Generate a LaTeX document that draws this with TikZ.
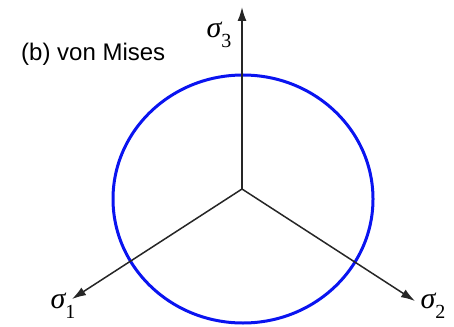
\documentclass[tikz,border=0pt]{standalone}
\usepackage{fontspec}
\setmainfont{Liberation Serif}
\newfontfamily\labelfont{Liberation Sans}
\usepackage{tikz}
\usetikzlibrary{arrows.meta,positioning}
\definecolor{MisesBlue}{HTML}{0A14F0}
\definecolor{AxisGrey}{HTML}{262626}

\newcommand{\sig}[1]{{\itshape σ}\raisebox{-0.32em}{\fontsize{20}{20}\selectfont #1}}

\begin{document}
\begin{tikzpicture}[
  x=1pt,
  y=-1pt,
  axis/.style={draw=AxisGrey, line width=1.5pt, -{Latex[length=14pt,width=9pt]}},
  yieldline/.style={draw=MisesBlue, line width=3pt},
  sigmalabel/.style={font=\fontsize{30}{30}\selectfont, inner sep=0pt}
]
\useasboundingbox (0,0) rectangle (454,326);

% origin and axis ends
\coordinate (O) at (242,189);
\coordinate (s3tip) at (242,7);
\coordinate (s1tip) at (72,299);
\coordinate (s2tip) at (415,301);

% von Mises yield surface
\draw[yieldline] (243,199) ellipse [x radius=130pt, y radius=124pt];

% principal stress axes
\draw[axis] (O) -- (s3tip);
\draw[axis] (O) -- (s1tip);
\draw[axis] (O) -- (s2tip);

\node[sigmalabel] (s3) at (219,35) {\sig{3}};
\node[sigmalabel] (s1) at (63,306) {\sig{1}};
\node[sigmalabel] (s2) at (433,306) {\sig{2}};

\node[font=\labelfont\fontsize{24}{28}\selectfont, anchor=west, inner sep=0pt] (title) at (21,54) {(b) von Mises};
\end{tikzpicture}
\end{document}
